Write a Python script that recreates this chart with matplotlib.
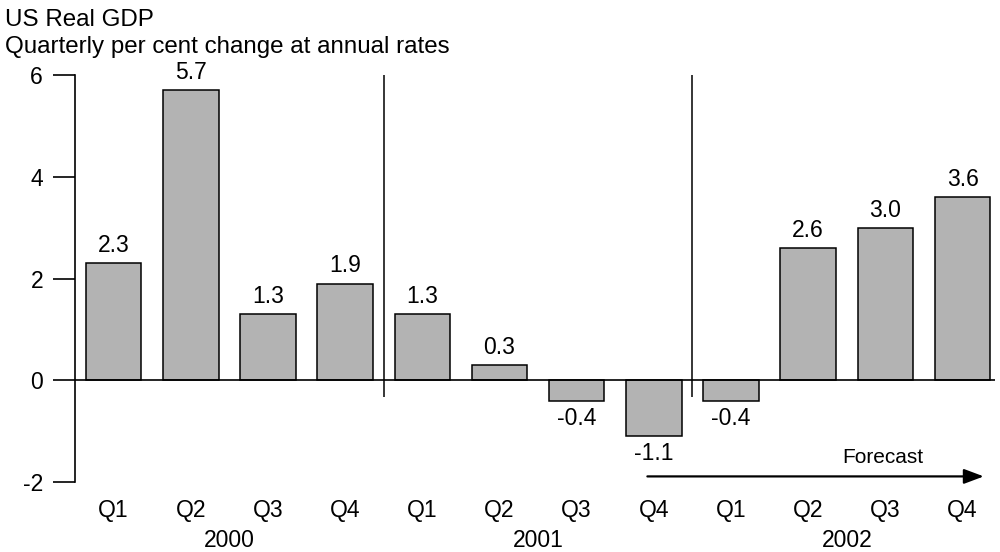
import matplotlib
matplotlib.use('Agg')
import matplotlib.pyplot as plt

plt.rcParams['font.family'] = ['Liberation Sans', 'DejaVu Sans']

# data
quarters = ['Q1', 'Q2', 'Q3', 'Q4'] * 3
years = ['2000', '2001', '2002']
growth = [2.3, 5.7, 1.3, 1.9, 1.3, 0.3, -0.4, -1.1, -0.4, 2.6, 3.0, 3.6]
value_labels = ['2.3', '5.7', '1.3', '1.9', '1.3', '0.3', '-0.4', '-1.1', '-0.4', '2.6', '3.0', '3.6']
yticks = [-2, 0, 2, 4, 6]

fs = 16.5
fig = plt.figure(figsize=(10, 5.52), dpi=100)
ax = fig.add_axes([0.075, 0.1268, 0.92, 0.7373])

x = list(range(len(growth)))
ax.bar(x, growth, width=0.72, color='#b3b3b3', edgecolor='black', linewidth=1.1, zorder=2)

# value labels
for xi, v, lab in zip(x, growth, value_labels):
    if v >= 0:
        ax.text(xi, v + 0.12, lab, ha='center', va='bottom', fontsize=fs)
    else:
        ax.text(xi, v - 0.12, lab, ha='center', va='top', fontsize=fs)

ax.set_xlim(-0.5, 11.42)
ax.set_ylim(-2, 6)
ax.axhline(0, color='black', lw=1.2, zorder=3)
ax.vlines([3.5, 7.5], -0.32, 6, color='black', lw=1.1)

for s in ['top', 'right', 'bottom']:
    ax.spines[s].set_visible(False)
ax.spines['left'].set_linewidth(1.2)
ax.set_yticks(yticks)
ax.set_yticklabels([str(t) for t in yticks], fontsize=fs)
ax.tick_params(axis='y', length=16, width=1.2, pad=7)
ax.set_xticks([])

# quarter and year labels under the axis
tr = ax.get_xaxis_transform()
for xi, q in zip(x, quarters):
    ax.text(xi, -0.069, q, transform=tr, ha='center', va='center', fontsize=fs, clip_on=False)
for i, yr in enumerate(years):
    ax.text(i * 4 + 1.5, -0.1425, yr, transform=tr, ha='center', va='center', fontsize=fs, clip_on=False)

# forecast arrow
ax.annotate('', xy=(11.31, -1.89), xytext=(6.88, -1.89),
            arrowprops=dict(arrowstyle='-|>,head_length=1.2,head_width=0.45', color='black', lw=1.6),
            annotation_clip=False)
ax.text(9.97, -1.52, 'Forecast', ha='center', va='center', fontsize=15)

fig.text(0.005, 0.984, 'US Real GDP', ha='left', va='top', fontsize=17.4)
fig.text(0.005, 0.935, 'Quarterly per cent change at annual rates', ha='left', va='top', fontsize=17.4)

fig.savefig('out.png', dpi=100)
